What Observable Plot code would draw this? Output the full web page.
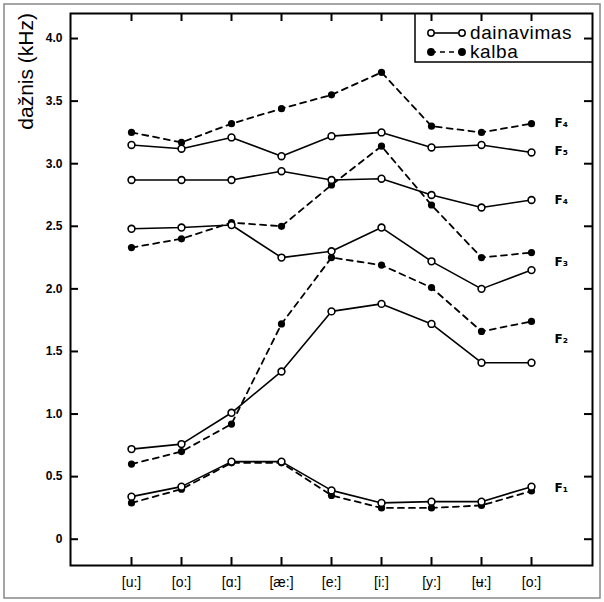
<!DOCTYPE html>
<html>
<head>
<meta charset="utf-8">
<script src="https://cdn.jsdelivr.net/npm/d3@7"></script>
<script src="https://cdn.jsdelivr.net/npm/@observablehq/plot@0.6"></script>
<style>
  body { margin: 0; background: #fff; }
  #chart svg { display: block; }
</style>
</head>
<body>
<div id="chart"></div>
<script>
// Vowel categories along the x axis
const vowels = ["[u:]", "[o:]", "[ɑ:]", "[æ:]", "[e:]", "[i:]", "[y:]", "[ʉ:]", "[o:]"];

// Formant frequencies (kHz) – singing ("dainavimas")
const singF1 = [0.34, 0.42, 0.62, 0.62, 0.39, 0.29, 0.30, 0.30, 0.42];
const singF2 = [0.72, 0.76, 1.01, 1.34, 1.82, 1.88, 1.72, 1.41, 1.41];
const singF3 = [2.48, 2.49, 2.51, 2.25, 2.30, 2.49, 2.22, 2.00, 2.15];
const singF4 = [2.87, 2.87, 2.87, 2.94, 2.87, 2.88, 2.75, 2.65, 2.71];
const singF5 = [3.15, 3.12, 3.21, 3.06, 3.22, 3.25, 3.13, 3.15, 3.09];

// Formant frequencies (kHz) – speech ("kalba")
const speechF1 = [0.29, 0.40, 0.61, 0.61, 0.35, 0.25, 0.25, 0.27, 0.385];
const speechF2 = [0.60, 0.70, 0.92, 1.72, 2.25, 2.19, 2.01, 1.66, 1.74];
const speechF3 = [2.33, 2.40, 2.53, 2.50, 2.83, 3.14, 2.67, 2.25, 2.29];
const speechF4 = [3.25, 3.17, 3.32, 3.44, 3.55, 3.73, 3.30, 3.25, 3.32];

// Formant names at the right end of the curves, and their heights (kHz)
const formantLabels = ["F₄", "F₅", "F₄", "F₃", "F₂", "F₁"];
const formantLabelY = [3.32, 3.10, 2.71, 2.21, 1.60, 0.41];

// Y axis tick values (kHz)
const yTicks = [0, 0.5, 1.0, 1.5, 2.0, 2.5, 3.0, 3.5, 4.0];

function toRows(list, kind) {
  const out = [];
  for (const [formant, values] of list) {
    values.forEach((f, i) => out.push({ i, f, formant, kind }));
  }
  return out;
}

const singing = toRows([["F1", singF1], ["F2", singF2], ["F3", singF3], ["F4", singF4], ["F5", singF5]], "dainavimas");
const speech = toRows([["F1", speechF1], ["F2", speechF2], ["F3", speechF3], ["F4", speechF4]], "kalba");
const labelRows = formantLabels.map((t, k) => ({ t, y: formantLabelY[k] }));
const lastIndex = vowels.length - 1;
const xIndex = d3.range(vowels.length);

// Plot geometry
const W = 604, H = 602;
const M = { top: 13, right: 12, bottom: 37, left: 70 };
const frameW = W - M.left - M.right;
const frameH = H - M.top - M.bottom;
const TICK = 8; // inward tick length

const tickStyle = { stroke: "#000", strokeWidth: 2 };

const chart = Plot.plot({
  width: W,
  height: H,
  marginLeft: M.left,
  marginRight: M.right,
  marginTop: M.top,
  marginBottom: M.bottom,
  style: { fontFamily: "Liberation Sans, Arial, sans-serif", background: "#fff", color: "#000" },
  x: { type: "point", domain: xIndex, padding: 1.2, axis: null },
  y: { domain: [-0.21, 4.2], axis: null },
  marks: [
    Plot.frame({ stroke: "#000", strokeWidth: 2 }),
    // inward tick marks on all four sides of the frame
    Plot.tickY(yTicks, { y: d => d, insetRight: frameW - TICK, ...tickStyle }),
    Plot.tickY(yTicks, { y: d => d, insetLeft: frameW - TICK, ...tickStyle }),
    Plot.tickX(xIndex, { x: d => d, insetTop: frameH - TICK, ...tickStyle }),
    Plot.tickX(xIndex, { x: d => d, insetBottom: frameH - TICK, ...tickStyle }),
    Plot.axisY({ anchor: "left", ticks: yTicks, tickSize: 0, tickPadding: 8,
      tickFormat: d => d === 0 ? "0" : d.toFixed(1), label: null, fontSize: 12 }),
    Plot.axisX({ anchor: "bottom", ticks: xIndex, tickSize: 0, tickPadding: 12,
      tickFormat: i => vowels[i], label: null, fontSize: 14 }),
    Plot.line(speech, { x: "i", y: "f", z: "formant", stroke: "#000", strokeWidth: 1.8, strokeDasharray: "6,5" }),
    Plot.line(singing, { x: "i", y: "f", z: "formant", stroke: "#000", strokeWidth: 1.6 }),
    Plot.dot(speech, { x: "i", y: "f", r: 3.6, fill: "#000" }),
    Plot.dot(singing, { x: "i", y: "f", r: 3.4, fill: "#fff", stroke: "#000", strokeWidth: 1.6 }),
    Plot.text(labelRows, { x: () => lastIndex, y: "y", text: "t", dx: 23, textAnchor: "start",
      fontSize: 12, fontWeight: "bold", fontFamily: "DejaVu Sans, sans-serif" })
  ]
});

document.getElementById("chart").appendChild(chart);

const svg = d3.select(chart);

// Bold numerals on the frequency axis
svg.selectAll("g[aria-label='y-axis tick label'] text").attr("font-weight", "bold");

// Outer border
svg.append("rect")
  .attr("x", 4).attr("y", 4).attr("width", 596).attr("height", 594)
  .attr("fill", "none").attr("stroke", "#888").attr("stroke-width", 1.5);

// Axis title
svg.append("text")
  .attr("transform", "translate(33,13) rotate(-90)")
  .attr("text-anchor", "end")
  .attr("font-family", "Liberation Sans, Arial, sans-serif")
  .attr("font-size", 21)
  .attr("fill", "#000")
  .text("dažnis (kHz)");

// Legend box in the upper-right corner of the frame
const legend = svg.append("g");
legend.append("path")
  .attr("d", "M415,13V62H592")
  .attr("fill", "none").attr("stroke", "#000").attr("stroke-width", 1.5);

const entries = [
  { label: "dainavimas", y: 33, dash: null, fill: "#fff" },
  { label: "kalba", y: 52, dash: "5,4", fill: "#000" }
];
for (const e of entries) {
  legend.append("line")
    .attr("x1", 431).attr("x2", 462).attr("y1", e.y).attr("y2", e.y)
    .attr("stroke", "#000").attr("stroke-width", 1.6)
    .attr("stroke-dasharray", e.dash);
  for (const cx of [431, 462]) {
    legend.append("circle")
      .attr("cx", cx).attr("cy", e.y).attr("r", 3.2)
      .attr("fill", e.fill).attr("stroke", "#000").attr("stroke-width", 1.5);
  }
  legend.append("text")
    .attr("x", 470).attr("y", e.y + 6)
    .attr("text-anchor", "start")
    .attr("font-family", "Liberation Sans, Arial, sans-serif")
    .attr("font-size", 19)
    .attr("letter-spacing", 0.6)
    .attr("fill", "#000")
    .text(e.label);
}
</script>
</body>
</html>
